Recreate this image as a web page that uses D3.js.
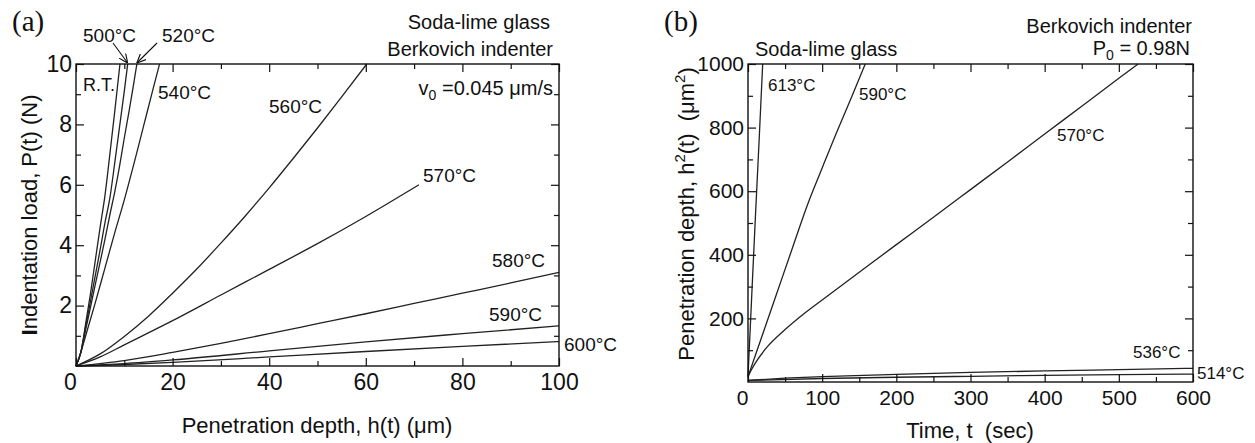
<!DOCTYPE html>
<html><head><meta charset="utf-8">
<script src="https://cdn.jsdelivr.net/npm/d3@7"></script>
<style>
body{margin:0;background:#fff}
svg{display:block}
text{font-family:"Liberation Sans",Arial,Helvetica,sans-serif;fill:#111;white-space:pre}
</style>
</head><body>
<svg id="chart" width="1255" height="443"></svg>
<script>
// ---------- Panel (a): load P (N) vs penetration depth h (um) ----------
const hRT  = [0,1,2,3,4,5,6,7,8,9.1];
const pRT  = [0,0.45,1.4,2.4,3.5,4.6,5.65,7.0,8.4,10];
const h500 = [0,1,2,3,4,5,6,7,8,9,10,10.7];
const p500 = [0,0.45,1.3,2.15,3.0,3.85,4.75,5.55,6.7,7.9,9.1,10];
const h520 = [0,1,2,3,4,5,6,7,8,9,10,11,12,12.6];
const p520 = [0,0.45,1.2,1.95,2.7,3.45,4.2,5.0,5.75,6.6,7.55,8.45,9.4,10];
const h540 = [0,1,2,4,6,8,10,12,14,16,17.3];
const p540 = [0,0.45,1.0,2.1,3.25,4.4,5.5,6.7,7.95,9.2,10];
const h560 = [0,5,10,15,20,25,30,35,40,45,50,55,60.2];
const p560 = [0,0.4,0.98,1.65,2.41,3.21,4.07,4.96,5.9,6.88,7.88,8.91,10];
const h570 = [0,5,10,20,30,40,50,60,71];
const p570 = [0,0.3,0.7,1.5,2.35,3.2,4.05,4.95,6.0];
const h580 = [0,10,20,30,40,50,60,70,80,90,100];
const p580 = [0,0.18,0.45,0.75,1.07,1.4,1.73,2.07,2.41,2.75,3.1];
const h590 = [0,10,20,40,60,80,100];
const p590 = [0,0.08,0.2,0.5,0.8,1.07,1.33];
const h600 = [0,10,20,40,60,80,100];
const p600 = [0,0.05,0.12,0.3,0.48,0.65,0.81];
const labelsA = ["R.T.","500°C","520°C","540°C","560°C","570°C","580°C","590°C","600°C"];
const xTicksA = [0,20,40,60,80,100];
const xMinorA = [10,30,50,70,90];
const yTicksA = [2,4,6,8,10];
const yMinorA = [1,3,5,7,9];

// ---------- Panel (b): h^2 (um^2) vs time t (sec) ----------
const t613 = [0,5,10,15,19.8];
const v613 = [17,270,520,760,1000];
const t590 = [0,20,40,60,80,100,120,140,158];
const v590 = [17,152,287,422,556,673,788,898,1000];
const t570 = [0,5,10,25,50,75,100,150,200,250,300,350,400,450,500,526];
const v570 = [17,40,60,108,165,214,258,345,432,518,605,692,780,867,955,1000];
const t536 = [0,50,100,200,300,400,500,600];
const v536 = [5,12,17,24,30,35,39,43];
const t514 = [0,100,200,300,400,500,600];
const v514 = [5,11,15,18,21,23,25];
const labelsB = ["613°C","590°C","570°C","536°C","514°C"];
const xTicksB = [0,100,200,300,400,500,600];
const xMinorB = [50,150,250,350,450,550];
const yTicksB = [200,400,600,800,1000];
const yMinorB = [100,300,500,700,900];

const svg = d3.select("#chart");
const FONT = "Liberation Sans, Arial, Helvetica, sans-serif";

const xA = d3.scaleLinear().domain([0,100]).range([76,559]);
const yA = d3.scaleLinear().domain([0,10]).range([366,64]);
const xB = d3.scaleLinear().domain([0,600]).range([748,1193]);
const yB = d3.scaleLinear().domain([0,1000]).range([382,64]);

function zip(a,b){ return a.map((v,i)=>[v,b[i]]); }

function axes(x, y, xMaj, xMin, yMaj, yMin, fs){
  const [xl,xr] = x.range(), [yb,yt] = y.range();
  const style = g => { g.select(".domain").remove();
    g.attr("font-family",FONT).attr("font-size",fs).attr("color","#111");
    g.selectAll("line").attr("stroke-width",1.2); };
  const noLab = g => { style(g); g.selectAll("text").remove(); };
  svg.append("g").attr("transform",`translate(0,${yb})`)
    .call(d3.axisBottom(x).tickValues(xMaj).tickSize(-8).tickPadding(8).tickFormat(d3.format("d")))
    .call(style)
    .call(g=>g.selectAll("text").filter(d=>d===0).attr("dx",-6));
  svg.append("g").attr("transform",`translate(0,${yb})`)
    .call(d3.axisBottom(x).tickValues(xMin).tickSize(-5)).call(noLab);
  svg.append("g").attr("transform",`translate(0,${yt})`)
    .call(d3.axisTop(x).tickValues(xMaj).tickSize(-8)).call(noLab);
  svg.append("g").attr("transform",`translate(0,${yt})`)
    .call(d3.axisTop(x).tickValues(xMin).tickSize(-5)).call(noLab);
  svg.append("g").attr("transform",`translate(${xl},0)`)
    .call(d3.axisLeft(y).tickValues(yMaj).tickSize(-8).tickPadding(4).tickFormat(d3.format("d")))
    .call(style);
  svg.append("g").attr("transform",`translate(${xl},0)`)
    .call(d3.axisLeft(y).tickValues(yMin).tickSize(-5)).call(noLab);
  svg.append("g").attr("transform",`translate(${xr},0)`)
    .call(d3.axisRight(y).tickValues(yMaj).tickSize(-8)).call(noLab);
  svg.append("g").attr("transform",`translate(${xr},0)`)
    .call(d3.axisRight(y).tickValues(yMin).tickSize(-5)).call(noLab);
  svg.append("rect").attr("x",xl).attr("y",yt).attr("width",xr-xl).attr("height",yb-yt)
    .attr("fill","none").attr("stroke","#111").attr("stroke-width",1.4);
}

function curves(x, y, series){
  const line = d3.line().x(d=>x(d[0])).y(d=>y(d[1])).curve(d3.curveMonotoneX);
  svg.append("g").selectAll("path").data(series).join("path")
    .attr("d",line).attr("fill","none").attr("stroke","#222").attr("stroke-width",1.3);
}

function label(px, cy, txt, fs, anchor){
  return svg.append("text").attr("x",px).attr("y",cy + fs*0.36)
    .attr("font-size",fs).attr("text-anchor",anchor||"start").text(txt);
}

// ---- Panel (a)
const seriesA = [zip(hRT,pRT),zip(h500,p500),zip(h520,p520),zip(h540,p540),zip(h560,p560),
                 zip(h570,p570),zip(h580,p580),zip(h590,p590),zip(h600,p600)];
curves(xA, yA, seriesA);
axes(xA, yA, xTicksA, xMinorA, yTicksA, yMinorA, 23);

// ---- Panel (b)
const seriesB = [zip(t613,v613),zip(t590,v590),zip(t570,v570),zip(t536,v536),zip(t514,v514)];
curves(xB, yB, seriesB);
axes(xB, yB, xTicksB, xMinorB, yTicksB, yMinorB, 21);

// arrows
const defs = svg.append("defs");
defs.append("marker").attr("id","arr").attr("viewBox","0 0 10 10").attr("refX",10).attr("refY",5)
  .attr("markerWidth",9).attr("markerHeight",9).attr("markerUnits","userSpaceOnUse").attr("orient","auto")
  .append("path").attr("d","M0,0.5 L10,5 L0,9.5").attr("fill","none").attr("stroke","#111").attr("stroke-width",1.3);
const tip500 = [xA(h500[h500.length-1]), yA(p500[p500.length-1])];
const tip520 = [xA(h520[h520.length-1]), yA(p520[p520.length-1])];
svg.append("line").attr("x1",113).attr("y1",43).attr("x2",tip500[0]).attr("y2",tip500[1]-1)
  .attr("stroke","#111").attr("stroke-width",1.1).attr("marker-end","url(#arr)");
svg.append("line").attr("x1",157).attr("y1",43).attr("x2",tip520[0]).attr("y2",tip520[1]-1)
  .attr("stroke","#111").attr("stroke-width",1.1).attr("marker-end","url(#arr)");

// temperature labels (a)
label(83, 85, labelsA[0], 18);
label(83, 35, labelsA[1], 19);
label(162, 35, labelsA[2], 19);
label(158, 92, labelsA[3], 19);
label(269, 106, labelsA[4], 19);
label(423, 175, labelsA[5], 19);
label(492, 260, labelsA[6], 19);
label(489, 314, labelsA[7], 19);
label(564, 344, labelsA[8], 19);

// temperature labels (b)
label(768, 85, labelsB[0], 17);
label(859, 94, labelsB[1], 17);
label(1057, 135, labelsB[2], 17);
label(1133, 352, labelsB[3], 17);
label(1197, 373, labelsB[4], 17);

// annotations (a)
label(550, 22, "Soda-lime glass", 20, "end");
label(553, 49, "Berkovich indenter", 20, "end");
{ const t = svg.append("text").attr("x",553).attr("y",88+7).attr("font-size",20).attr("text-anchor","end");
  t.append("tspan").text("v");
  t.append("tspan").attr("font-size",14).attr("dy",5).text("0");
  t.append("tspan").attr("dy",-5).text(" =0.045 μm/s"); }
// annotations (b)
label(755, 49, "Soda-lime glass", 20);
label(1192, 26, "Berkovich indenter", 20, "end");
{ const t = svg.append("text").attr("x",1190).attr("y",48+7).attr("font-size",20).attr("text-anchor","end");
  t.append("tspan").text("P");
  t.append("tspan").attr("font-size",14).attr("dy",5).text("0");
  t.append("tspan").attr("dy",-5).text(" = 0.98N"); }

// panel letters
svg.append("text").attr("x",12).attr("y",31).attr("font-size",29)
  .style("font-family","Liberation Serif, Times New Roman, serif").text("(a)");
svg.append("text").attr("x",664).attr("y",31).attr("font-size",29)
  .style("font-family","Liberation Serif, Times New Roman, serif").text("(b)");

// axis titles
svg.append("text").attr("x",317).attr("y",425+8).attr("font-size",22).attr("text-anchor","middle")
  .text("Penetration depth, h(t) (μm)");
svg.append("text").attr("x",970).attr("y",430+8).attr("font-size",22).attr("text-anchor","middle")
  .text("Time, t  (sec)");
{ const t = svg.append("text").attr("transform","translate(37,215) rotate(-90)")
    .attr("font-size",22).attr("text-anchor","middle");
  t.append("tspan").attr("font-weight","bold").text("I");
  t.append("tspan").text("ndentation load, P(t) (N)"); }
{ const t = svg.append("text").attr("transform","translate(694,214) rotate(-90)")
    .attr("font-size",22).attr("text-anchor","middle");
  t.append("tspan").text("Penetration depth, h");
  t.append("tspan").attr("font-size",15).attr("dy",-9).text("2");
  t.append("tspan").attr("dy",9).text("(t)  (μm");
  t.append("tspan").attr("font-size",15).attr("dy",-9).text("2");
  t.append("tspan").attr("dy",9).text(")"); }
</script>
</body></html>
